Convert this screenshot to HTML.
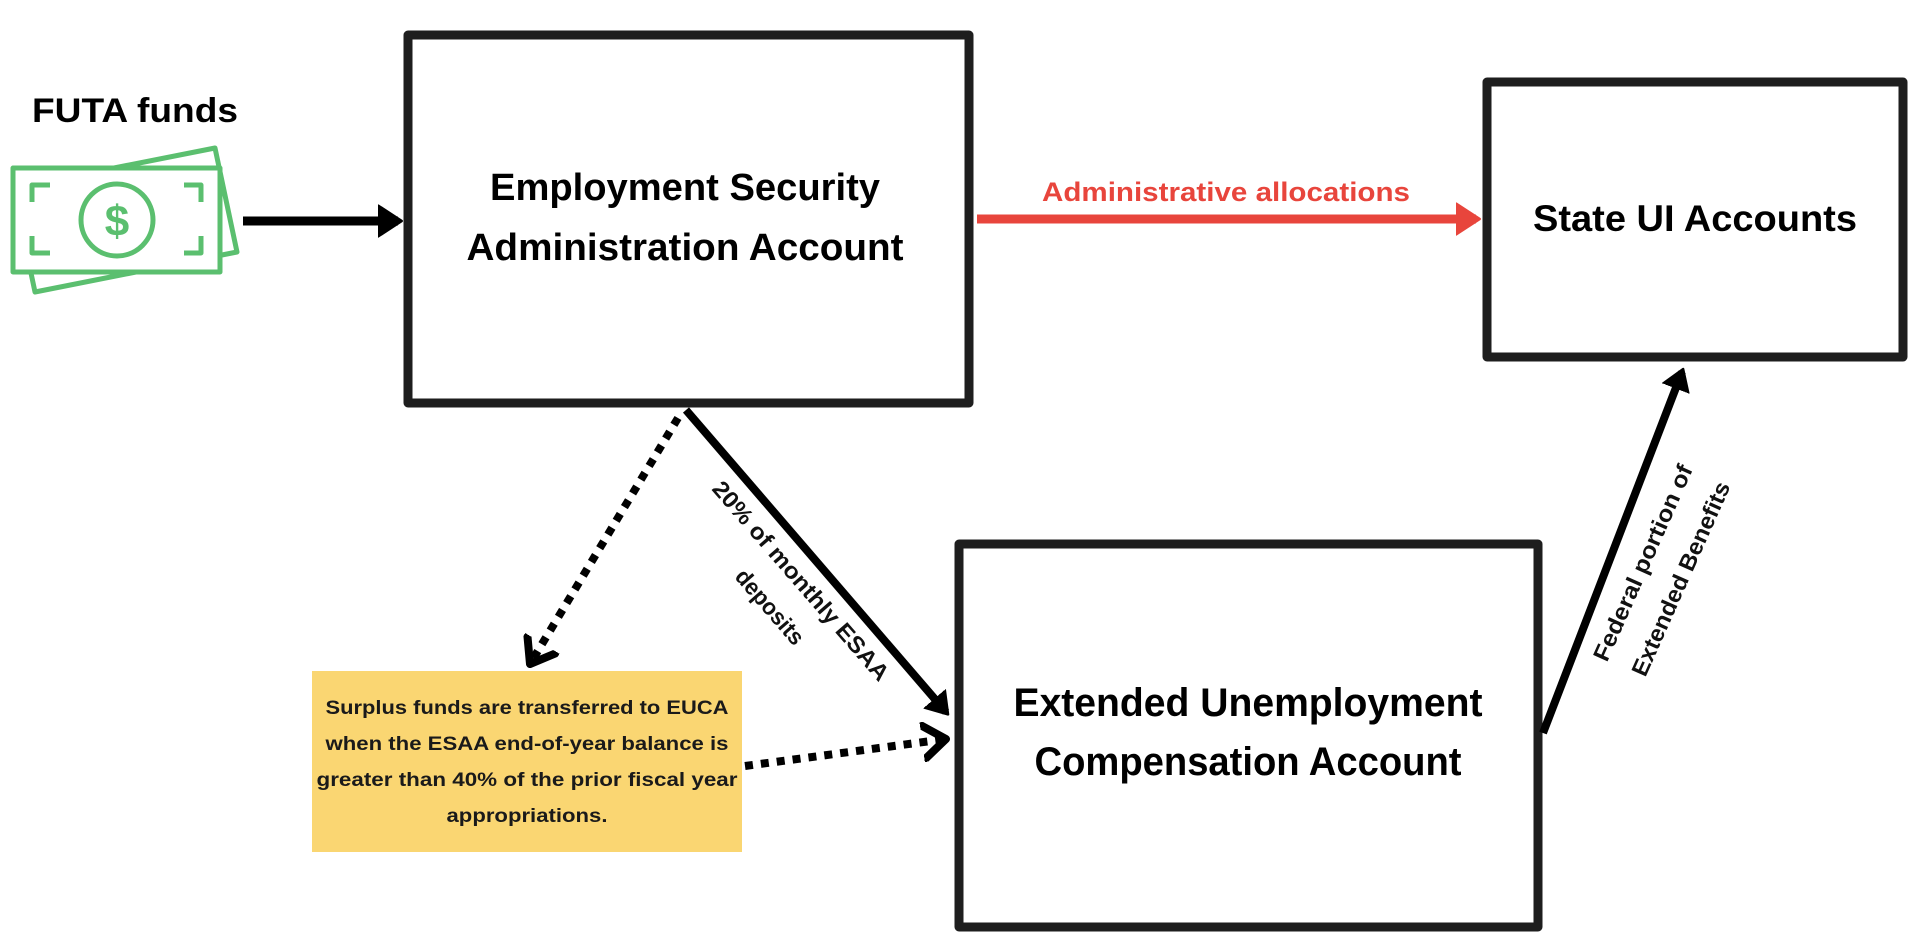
<!DOCTYPE html>
<html><head><meta charset="utf-8"><style>
html,body{margin:0;padding:0;background:#fff;width:1922px;height:944px;overflow:hidden}
svg{display:block}
text{font-family:"Liberation Sans",sans-serif;font-weight:bold}
</style></head><body>
<svg width="1922" height="944" viewBox="0 0 1922 944" xmlns="http://www.w3.org/2000/svg">
<defs>
<marker id="ab" markerWidth="4" markerHeight="4" refX="2.2" refY="2" orient="auto" markerUnits="strokeWidth"><path d="M0,0.3 L2.6,2 L0,3.7 Z" fill="#000" stroke="#000" stroke-width="0.3" stroke-linejoin="round"/></marker>
<marker id="ar" markerWidth="4" markerHeight="4" refX="2.2" refY="2" orient="auto" markerUnits="strokeWidth"><path d="M0,0.3 L2.6,2 L0,3.7 Z" fill="#e8453c" stroke="#e8453c" stroke-width="0.3" stroke-linejoin="round"/></marker>
<marker id="ao" markerWidth="5" markerHeight="5" refX="3" refY="2.5" orient="auto" markerUnits="strokeWidth"><path d="M0,0.3 L3,2.5 L0,4.7" fill="none" stroke="#000" stroke-width="1" stroke-linecap="round" stroke-linejoin="round"/></marker>
</defs>

<g fill="none" stroke="#5bbf6f" stroke-width="5" stroke-linejoin="round">
<polygon points="35,292 237,252 215,148 13,188" fill="#fff"/>
<rect x="13" y="168" width="207" height="104" fill="#fff"/>
<path d="M32,202 V185 H50"/>
<path d="M32,236 V253 H50"/>
<path d="M184,185 H201 V202"/>
<path d="M201,236 V253 H184"/>
<circle cx="117" cy="220" r="36"/>
</g>
<text x="117" y="236" font-size="44" fill="#5bbf6f" text-anchor="middle">$</text>

<text x="135" y="122" font-size="34" text-anchor="middle" textLength="206" lengthAdjust="spacingAndGlyphs">FUTA funds</text>

<g fill="none" stroke="#1e1e1e" stroke-width="9" stroke-linejoin="round">
<rect x="408" y="35" width="561" height="368"/>
<rect x="1487" y="82" width="416" height="275"/>
<rect x="959" y="544" width="579" height="383"/>
</g>
<rect x="312" y="671" width="430" height="181" fill="#fad672"/>

<text x="685" y="200" font-size="38" text-anchor="middle" textLength="390" lengthAdjust="spacingAndGlyphs">Employment Security</text>
<text x="685" y="260" font-size="38" text-anchor="middle" textLength="437" lengthAdjust="spacingAndGlyphs">Administration Account</text>
<text x="1695" y="231" font-size="37" text-anchor="middle" textLength="324" lengthAdjust="spacingAndGlyphs">State UI Accounts</text>
<text x="1248" y="716" font-size="40" text-anchor="middle" textLength="469" lengthAdjust="spacingAndGlyphs">Extended Unemployment</text>
<text x="1248" y="775" font-size="40" text-anchor="middle" textLength="427" lengthAdjust="spacingAndGlyphs">Compensation Account</text>

<g font-size="19.5" text-anchor="middle" fill="#1a1a1a">
<text x="527" y="714" textLength="403" lengthAdjust="spacingAndGlyphs">Surplus funds are transferred to EUCA</text>
<text x="527" y="750" textLength="403" lengthAdjust="spacingAndGlyphs">when the ESAA end-of-year balance is</text>
<text x="527" y="786" textLength="421" lengthAdjust="spacingAndGlyphs">greater than 40% of the prior fiscal year</text>
<text x="527" y="822" textLength="161" lengthAdjust="spacingAndGlyphs">appropriations.</text>
</g>

<line x1="243" y1="221" x2="398" y2="221" stroke="#000" stroke-width="9" marker-end="url(#ab)"/>
<line x1="977" y1="219" x2="1476" y2="219" stroke="#e8453c" stroke-width="9" marker-end="url(#ar)"/>
<text x="1226" y="201" font-size="27" fill="#e8453c" text-anchor="middle" textLength="368" lengthAdjust="spacingAndGlyphs">Administrative allocations</text>

<line x1="686" y1="410" x2="946" y2="712" stroke="#000" stroke-width="8" marker-end="url(#ab)"/>
<line x1="1543" y1="733" x2="1682" y2="372" stroke="#000" stroke-width="8" marker-end="url(#ab)"/>

<line x1="678" y1="418" x2="530" y2="664" stroke="#000" stroke-width="8" stroke-dasharray="8,8" marker-end="url(#ao)"/>
<line x1="745" y1="766" x2="946" y2="739" stroke="#000" stroke-width="8" stroke-dasharray="8,8" marker-end="url(#ao)"/>

<g font-size="23" text-anchor="middle" fill="#111">
<text transform="translate(795,586) rotate(49)" textLength="256" lengthAdjust="spacingAndGlyphs">20% of monthly ESAA</text>
<text transform="translate(764,612) rotate(49)" textLength="92" lengthAdjust="spacingAndGlyphs">deposits</text>
<text transform="translate(1650,566) rotate(-66)" textLength="212" lengthAdjust="spacingAndGlyphs">Federal portion of</text>
<text transform="translate(1688,582) rotate(-66)" textLength="210" lengthAdjust="spacingAndGlyphs">Extended Benefits</text>
</g>
</svg>
</body></html>
